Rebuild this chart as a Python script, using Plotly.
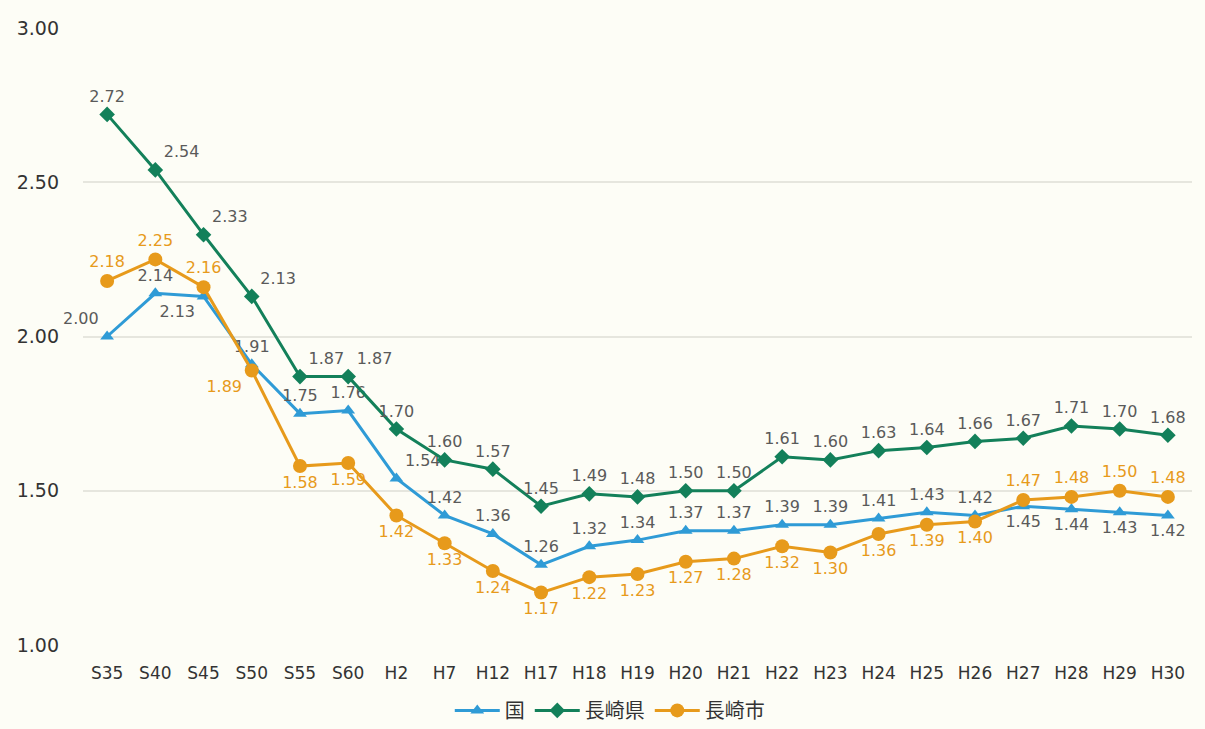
import plotly.graph_objects as go

categories = ["S35", "S40", "S45", "S50", "S55", "S60", "H2", "H7", "H12", "H17",
              "H18", "H19", "H20", "H21", "H22", "H23", "H24", "H25", "H26", "H27",
              "H28", "H29", "H30"]
kuni = [2.00, 2.14, 2.13, 1.91, 1.75, 1.76, 1.54, 1.42, 1.36, 1.26,
        1.32, 1.34, 1.37, 1.37, 1.39, 1.39, 1.41, 1.43, 1.42, 1.45,
        1.44, 1.43, 1.42]
ken = [2.72, 2.54, 2.33, 2.13, 1.87, 1.87, 1.70, 1.60, 1.57, 1.45,
       1.49, 1.48, 1.50, 1.50, 1.61, 1.60, 1.63, 1.64, 1.66, 1.67,
       1.71, 1.70, 1.68]
shi = [2.18, 2.25, 2.16, 1.89, 1.58, 1.59, 1.42, 1.33, 1.24, 1.17,
       1.22, 1.23, 1.27, 1.28, 1.32, 1.30, 1.36, 1.39, 1.40, 1.47,
       1.48, 1.50, 1.48]
series_names = ["国", "長崎県", "長崎市"]
y_ticks = [1.00, 1.50, 2.00, 2.50, 3.00]

# label placement (style)
pos_kuni = ["top left", "top center", "bottom left", "top center", "top center", "top center",
            "top right", "top center", "top center", "top center", "top center", "top center",
            "top center", "top center", "top center", "top center", "top center", "top center",
            "top center", "bottom center", "bottom center", "bottom center", "bottom center"]
pos_ken = ["top center", "top right", "top right", "top right", "top right", "top right",
           "top center", "top center", "top center", "top center", "top center", "top center",
           "top center", "top center", "top center", "top center", "top center", "top center",
           "top center", "top center", "top center", "top center", "top center"]
pos_shi = ["top center", "top center", "top center", "bottom left", "bottom center", "bottom center",
           "bottom center", "bottom center", "bottom center", "bottom center", "bottom center",
           "bottom center", "bottom center", "bottom center", "bottom center", "bottom center",
           "bottom center", "bottom center", "bottom center", "top center", "top center",
           "top center", "top center"]

BLUE = "#2F9BD6"
GREEN = "#13805A"
ORANGE = "#E79A1B"
LABEL_GREY = "#5a5a5a"
NUM_FONT = "DejaVu Sans"
CJK_FONT = "Noto Sans CJK JP"
BG = "#FDFDF6"

fig = go.Figure()
fig.add_trace(go.Scatter(
    x=categories, y=kuni, name=series_names[0], mode="lines+markers+text",
    line=dict(color=BLUE, width=3),
    marker=dict(symbol="triangle-up", size=12, color=BLUE),
    text=[f"{v:.2f}" for v in kuni], textposition=pos_kuni,
    textfont=dict(color=LABEL_GREY, size=16, family=NUM_FONT),
    cliponaxis=False,
))
fig.add_trace(go.Scatter(
    x=categories, y=ken, name=series_names[1], mode="lines+markers+text",
    line=dict(color=GREEN, width=3),
    marker=dict(symbol="diamond", size=12, color=GREEN),
    text=[f"{v:.2f}" for v in ken], textposition=pos_ken,
    textfont=dict(color=LABEL_GREY, size=16, family=NUM_FONT),
    cliponaxis=False,
))
fig.add_trace(go.Scatter(
    x=categories, y=shi, name=series_names[2], mode="lines+markers+text",
    line=dict(color=ORANGE, width=3),
    marker=dict(symbol="circle", size=14, color=ORANGE),
    text=[f"{v:.2f}" for v in shi], textposition=pos_shi,
    textfont=dict(color=ORANGE, size=16, family=NUM_FONT),
    cliponaxis=False,
))

fig.update_layout(
    width=1205, height=729,
    margin=dict(l=83, r=13, t=28, b=84, autoexpand=False),
    paper_bgcolor=BG,
    plot_bgcolor=BG,
    font=dict(family=NUM_FONT, color="#333333"),
    showlegend=True,
    legend=dict(orientation="h", x=0.475, xanchor="center", y=-0.106, yanchor="middle",
                font=dict(size=20, color="#333333", family=CJK_FONT),
                bgcolor="rgba(0,0,0,0)", itemwidth=45),
    xaxis=dict(type="category", range=[-0.5, len(categories) - 0.5],
               showgrid=False, showline=False, zeroline=False,
               tickfont=dict(size=17, color="#333333", family=NUM_FONT), ticks="",
               ticklabelstandoff=16, automargin=False),
    yaxis=dict(range=[1.0, 3.0], tickvals=y_ticks, ticktext=[f"{v:.2f}" for v in y_ticks],
               showgrid=True, gridcolor="#E6E6DE", gridwidth=1.5, zeroline=False,
               showline=False, tickfont=dict(size=19, color="#333333", family=NUM_FONT),
               ticks="", ticklabelstandoff=23, automargin=False),
)

fig.write_html(
    "out.html",
    config={"displayModeBar": False},
    post_script="document.body.style.margin='0';document.body.style.overflow='hidden';"
                "document.body.style.background='" + BG + "';",
)
